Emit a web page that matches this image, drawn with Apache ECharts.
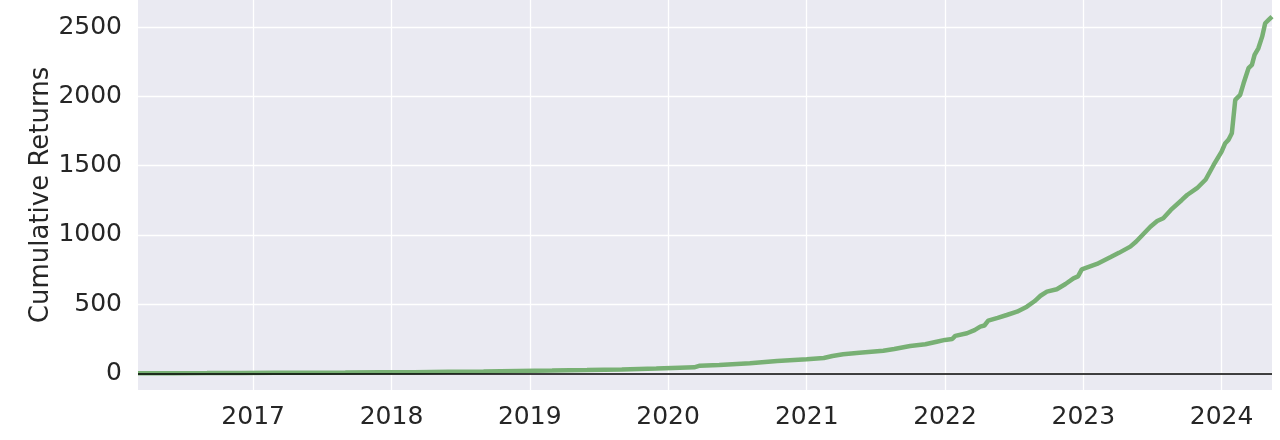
<!DOCTYPE html>
<html>
<head>
<meta charset="utf-8">
<script src="https://cdn.jsdelivr.net/npm/echarts@6/dist/echarts.min.js"></script>
<style>
  html, body { margin: 0; padding: 0; background: #fff; }
  #chart { width: 1280px; height: 440px; }
</style>
</head>
<body>
<div id="chart"></div>
<script>
// dates and cumulative returns
const dates = [
  '2016-03-03', '2016-06-01', '2016-09-01', '2016-12-01', '2017-03-01', '2017-06-01',
  '2017-09-01', '2017-12-01', '2018-03-01', '2018-06-01', '2018-09-01', '2018-12-01',
  '2019-03-01', '2019-06-01', '2019-09-01', '2019-12-01', '2020-02-01', '2020-03-10',
  '2020-03-25', '2020-05-15', '2020-08-04', '2020-10-15', '2021-01-01', '2021-02-15',
  '2021-03-10', '2021-04-07', '2021-05-20', '2021-07-22', '2021-08-20', '2021-10-01',
  '2021-11-10', '2021-12-10', '2022-01-01', '2022-01-20', '2022-01-28', '2022-02-28',
  '2022-03-20', '2022-04-04', '2022-04-15', '2022-04-25', '2022-05-20', '2022-06-13',
  '2022-07-10', '2022-08-05', '2022-08-25', '2022-09-10', '2022-09-27', '2022-10-23',
  '2022-11-15', '2022-12-06', '2022-12-18', '2022-12-28', '2023-02-06', '2023-03-13',
  '2023-04-05', '2023-05-05', '2023-05-20', '2023-06-27', '2023-07-15', '2023-07-31',
  '2023-08-20', '2023-09-18', '2023-10-02', '2023-10-28', '2023-11-20', '2023-12-11',
  '2024-01-01', '2024-01-10', '2024-01-19', '2024-01-28', '2024-02-06', '2024-02-19',
  '2024-02-28', '2024-03-12', '2024-03-21', '2024-03-28', '2024-04-07', '2024-04-17',
  '2024-04-25', '2024-05-04', '2024-05-13'
]
const returns = [
  0, 0.5, 1, 2, 3, 4,
  5, 7, 8, 10, 12, 16,
  19, 23, 28, 34, 40, 43,
  55, 60, 72, 88, 101, 110,
  125, 137, 148, 163, 175, 197,
  210, 228, 241, 247, 270, 289,
  312, 337, 345, 380, 400, 421,
  445, 481, 520, 560, 590, 607,
  645, 686, 700, 751, 790, 838,
  870, 915, 950, 1059, 1100, 1120,
  1180, 1252, 1288, 1337, 1400, 1505,
  1601, 1660, 1686, 1734, 1975, 2011,
  2095, 2204, 2228, 2300, 2348, 2432,
  2529, 2553, 2577
]
const yTicks = [0, 500, 1000, 1500, 2000, 2500]
const xTickYears = [2017, 2018, 2019, 2020, 2021, 2022, 2023, 2024]

const toTime = (s) => {
  const [y, m, d] = s.split('-').map(Number)
  return new Date(y, m - 1, d).getTime()
}
const xTicks = xTickYears.map(y => new Date(y, 0, 1).getTime())
const seriesData = dates.map((d, i) => [toTime(d), returns[i]])

const textColor = '#262626'
const chart = echarts.init(document.getElementById('chart'))

chart.setOption({
  animation: false,
  backgroundColor: '#fff',
  textStyle: { fontFamily: 'DejaVu Sans' },
  grid: {
    left: 138,
    right: 8,
    top: 0,
    bottom: 50,
    show: true,
    backgroundColor: '#EAEAF2',
    borderWidth: 0
  },
  xAxis: {
    type: 'value',
    min: toTime(dates[0]),
    max: toTime(dates[dates.length - 1]),
    axisLine: { show: false },
    axisTick: { show: false, customValues: xTicks },
    axisLabel: {
      customValues: xTicks,
      color: textColor,
      fontSize: 25,
      margin: 15,
      formatter: (val) => String(new Date(val).getFullYear())
    },
    splitLine: { show: true, lineStyle: { color: '#fff', width: 1.3 } }
  },
  yAxis: {
    type: 'value',
    min: -121,
    max: 2697,
    name: 'Cumulative Returns',
    nameLocation: 'middle',
    nameGap: 84,
    nameMoveOverlap: false,
    nameTextStyle: { color: textColor, fontSize: 26 },
    axisLine: { show: false },
    axisTick: { show: false, customValues: yTicks },
    axisLabel: {
      customValues: yTicks,
      color: textColor,
      fontSize: 25,
      margin: 16,
      formatter: (val) => String(val)
    },
    splitLine: { show: true, lineStyle: { color: '#fff', width: 1.3 } }
  },
  series: [
    {
      type: 'line',
      data: seriesData,
      showSymbol: false,
      lineStyle: { color: 'rgb(120,176,116)', width: 4.5 },
      markLine: {
        silent: true,
        symbol: 'none',
        label: { show: false },
        lineStyle: { color: '#000', width: 1.5, type: 'solid' },
        data: [{ yAxis: 0 }]
      }
    }
  ]
})
</script>
</body>
</html>
